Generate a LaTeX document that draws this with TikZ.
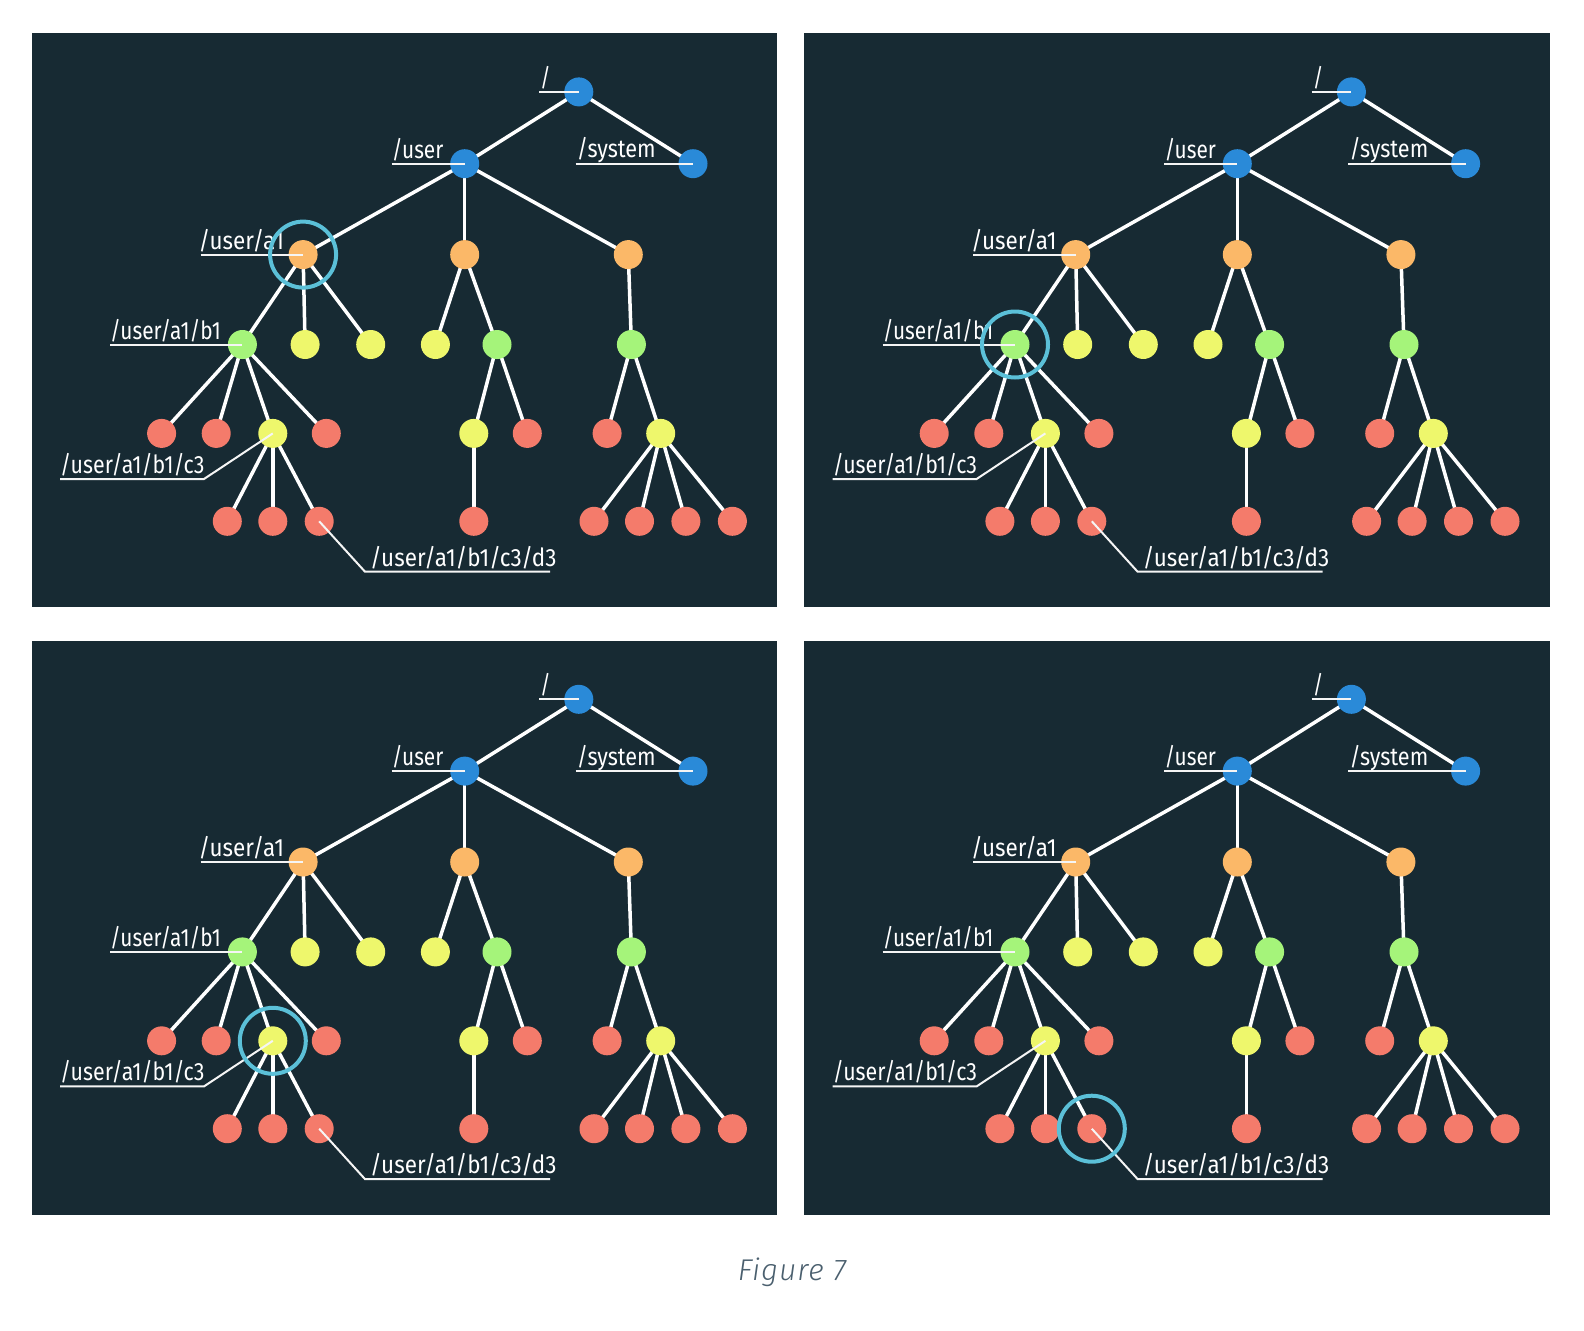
\documentclass[tikz,border=0pt]{standalone}
\usepackage{fontspec}
\usepackage{graphicx}
\newfontfamily\labfont[FakeStretch=0.82]{Fira Sans}
\IfFontExistsTF{Fira Sans Light Italic}{\newfontface\capfont[LetterSpace=3]{Fira Sans Light Italic}}{\newfontface\capfont[LetterSpace=3]{Fira Sans Italic}}
\pgfdeclarelayer{panelbg}
\pgfdeclarelayer{edges}
\pgfsetlayers{panelbg,edges,main}
\definecolor{bg}{HTML}{172A33}
\definecolor{cblue}{HTML}{2A8AD8}
\definecolor{corange}{HTML}{FBB868}
\definecolor{cgreen}{HTML}{A5F47A}
\definecolor{cyellow}{HTML}{EEF76C}
\definecolor{cred}{HTML}{F47B6B}
\definecolor{ringc}{HTML}{5BC0D8}
\definecolor{capcol}{HTML}{4A5F6E}
\tikzset{
  nd/.style={circle, minimum size=29pt, inner sep=0pt, draw=none},
  bn/.style={nd, fill=cblue},
  on/.style={nd, fill=corange},
  gn/.style={nd, fill=cgreen},
  yn/.style={nd, fill=cyellow},
  rn/.style={nd, fill=cred},
  edge/.style={draw=white, line width=3.5pt},
  leader/.style={draw=white!92!gray, line width=2pt},
  lab/.style={text=white, font=\labfont\fontsize{25}{27}\selectfont, inner sep=0pt, anchor=base west},
  ringst/.style={circle, draw=ringc, line width=4pt, minimum size=66pt, inner sep=0pt}
}
\newcommand{\sx}[2]{\scalebox{#1}[1]{#2}}
\newcommand{\treepanel}[4]{%
\begin{scope}[shift={(#2,#3)}]
\begin{pgfonlayer}{panelbg}
\fill[bg] (31.7,33.3) rectangle (777.3,607.3);
\end{pgfonlayer}
% nodes
\node[bn] (#1r) at (578.8,91.9) {};
\node[bn] (#1s) at (693.0,163.7) {};
\node[bn] (#1u) at (464.7,163.7) {};
\node[on] (#1a1) at (303.1,254.6) {};
\node[on] (#1a2) at (464.7,254.6) {};
\node[on] (#1a3) at (628.3,254.6) {};
\node[gn] (#1b1) at (242.4,344.5) {};
\node[yn] (#1ya) at (305.1,344.5) {};
\node[yn] (#1yb) at (370.7,344.5) {};
\node[yn] (#1yc) at (435.4,344.5) {};
\node[gn] (#1g2) at (497.0,344.5) {};
\node[gn] (#1g3) at (631.4,344.5) {};
\node[rn] (#1ca) at (161.6,433.4) {};
\node[rn] (#1cb) at (216.2,433.4) {};
\node[yn] (#1c3) at (272.8,433.4) {};
\node[rn] (#1cd) at (326.3,433.4) {};
\node[yn] (#1y2) at (473.8,433.4) {};
\node[rn] (#1r2) at (527.3,433.4) {};
\node[rn] (#1r3) at (607.1,433.4) {};
\node[yn] (#1y3) at (660.7,433.4) {};
\node[rn] (#1da) at (227.3,521.3) {};
\node[rn] (#1db) at (272.8,521.3) {};
\node[rn] (#1d3) at (319.2,521.3) {};
\node[rn] (#1e2) at (473.8,521.3) {};
\node[rn] (#1fa) at (594.0,521.3) {};
\node[rn] (#1fb) at (639.5,521.3) {};
\node[rn] (#1fc) at (685.9,521.3) {};
\node[rn] (#1fd) at (732.4,521.3) {};
% edges
\begin{pgfonlayer}{edges}
\draw[edge] (#1r.center) -- (#1u.center);
\draw[edge] (#1r.center) -- (#1s.center);
\draw[edge] (#1u.center) -- (#1a1.center);
\draw[edge] (#1u.center) -- (#1a2.center);
\draw[edge] (#1u.center) -- (#1a3.center);
\draw[edge] (#1a1.center) -- (#1b1.center);
\draw[edge] (#1a1.center) -- (#1ya.center);
\draw[edge] (#1a1.center) -- (#1yb.center);
\draw[edge] (#1a2.center) -- (#1yc.center);
\draw[edge] (#1a2.center) -- (#1g2.center);
\draw[edge] (#1a3.center) -- (#1g3.center);
\draw[edge] (#1b1.center) -- (#1ca.center);
\draw[edge] (#1b1.center) -- (#1cb.center);
\draw[edge] (#1b1.center) -- (#1c3.center);
\draw[edge] (#1b1.center) -- (#1cd.center);
\draw[edge] (#1g2.center) -- (#1y2.center);
\draw[edge] (#1g2.center) -- (#1r2.center);
\draw[edge] (#1g3.center) -- (#1r3.center);
\draw[edge] (#1g3.center) -- (#1y3.center);
\draw[edge] (#1c3.center) -- (#1da.center);
\draw[edge] (#1c3.center) -- (#1db.center);
\draw[edge] (#1c3.center) -- (#1d3.center);
\draw[edge] (#1y2.center) -- (#1e2.center);
\draw[edge] (#1y3.center) -- (#1fa.center);
\draw[edge] (#1y3.center) -- (#1fb.center);
\draw[edge] (#1y3.center) -- (#1fc.center);
\draw[edge] (#1y3.center) -- (#1fd.center);
\end{pgfonlayer}
% leader lines
\coordinate (#1Lr) at (539,91.9);
\coordinate (#1Lu) at (391.7,163.7);
\coordinate (#1Ls) at (575.7,163.7);
\coordinate (#1La) at (200.7,254.6);
\coordinate (#1Lb) at (110,344.5);
\coordinate (#1Lc) at (60,479);
\coordinate (#1Lcb) at (204,479);
\coordinate (#1Ld) at (550,571.7);
\coordinate (#1Ldb) at (365,571.7);
\draw[leader] (#1Lr) -- (#1r.center);
\draw[leader] (#1Lu) -- (#1u.center);
\draw[leader] (#1Ls) -- (#1s.center);
\draw[leader] (#1La) -- (#1a1.center);
\draw[leader] (#1Lb) -- (#1b1.center);
\draw[leader] (#1Lc) -- (#1Lcb) -- (#1c3.center);
\draw[leader] (#1Ld) -- (#1Ldb) -- (#1d3.center);
% labels
\node[lab] (#1tr) at (540,86) {/};
\node[lab] (#1tu) at (391.7,158.5) {\sx{1.017}{/user}};
\node[lab] (#1ts) at (576.7,157.7) {\sx{1.056}{/system}};
\node[lab] (#1ta) at (198.3,249) {\sx{1.096}{/user/a1}};
\node[lab] (#1tb) at (110,339.5) {\sx{1.017}{/user/a1/b1}};
\node[lab] (#1tc) at (60,473.5) {\sx{1.043}{/user/a1/b1/c3}};
\node[lab] (#1td) at (370,566) {\sx{1.096}{/user/a1/b1/c3/d3}};
% highlight
\node[ringst] (#1ring) at (#1#4.center) {};
\end{scope}}
\begin{document}
\begin{tikzpicture}[x=1pt, y=-1pt]
\useasboundingbox (0,0) rectangle (1584,1330);
\begin{pgfonlayer}{panelbg}
\fill[white] (0,0) rectangle (1584,1330);
\end{pgfonlayer}
\treepanel{p}{0}{0}{a1}
\treepanel{q}{772.6}{0}{b1}
\treepanel{m}{0}{607.4}{c3}
\treepanel{n}{772.6}{607.4}{d3}
\node[font=\capfont\fontsize{30}{33}\selectfont, text=capcol, anchor=base, inner sep=0pt] (cap) at (792,1280) {Figure 7};
\end{tikzpicture}
\end{document}
